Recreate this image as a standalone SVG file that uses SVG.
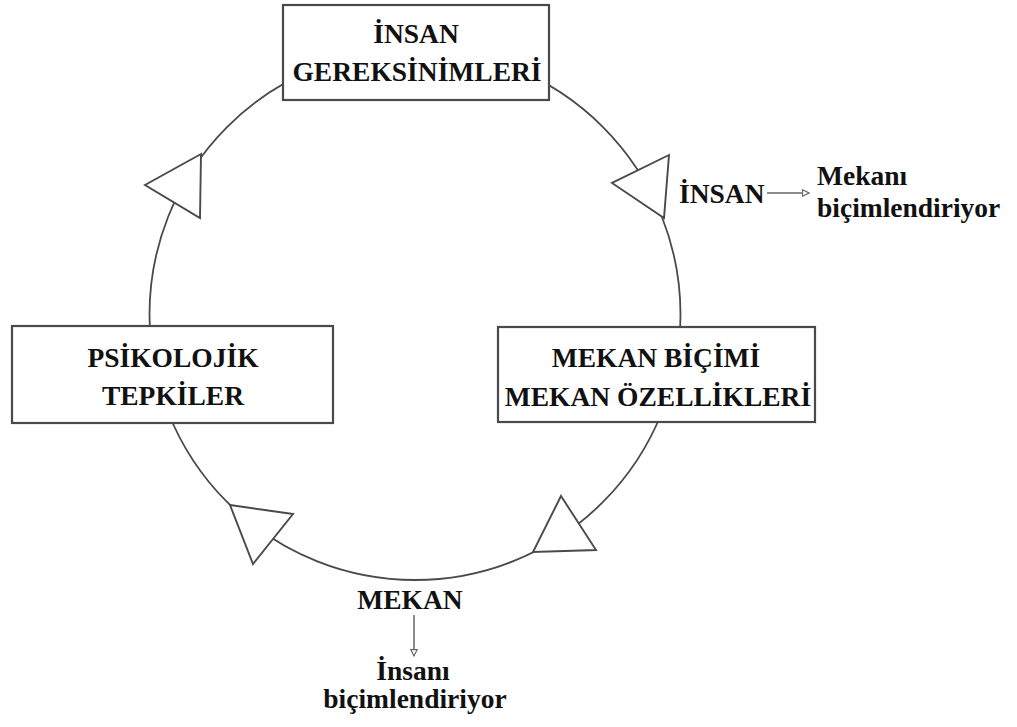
<svg xmlns="http://www.w3.org/2000/svg" width="1017" height="727" viewBox="0 0 1017 727">
<defs>
<style>
.box{fill:#fff;stroke:#4a4a4a;stroke-width:2.2}
.ring{fill:none;stroke:#4a4a4a;stroke-width:1.8}
.tri{fill:#fff;stroke:#4a4a4a;stroke-width:1.9;stroke-linejoin:miter}
.t{font-family:"Liberation Serif","Times New Roman",serif;font-weight:bold;font-size:27.5px;fill:#111}
.c{text-anchor:middle}
.arr{stroke:#666;stroke-width:1.5;fill:none}
</style>
<marker id="open" viewBox="0 0 10 10" refX="9" refY="5" markerWidth="8" markerHeight="8" markerUnits="userSpaceOnUse" orient="auto">
<path d="M1,1 L9,5 L1,9 Z" fill="#fff" stroke="#666" stroke-width="1.4"/>
</marker>
</defs>
<rect width="1017" height="727" fill="#fff"/>
<g id="connectors">
<circle class="ring" cx="415" cy="314.5" r="265.5"/>
<polygon class="tri" points="201,154 145,185 200,218"/>
<polygon class="tri" points="669,155 612,183 664,218"/>
<polygon class="tri" points="230,505 293,514 253,564"/>
<polygon class="tri" points="561,496 596,550 533,552"/>
<line class="arr" x1="767" y1="193" x2="809" y2="193" marker-end="url(#open)"/>
<line class="arr" x1="414" y1="615" x2="414" y2="656" marker-end="url(#open)"/>
</g>
<g id="insan-gereksinimleri">
<rect class="box" x="283" y="5" width="266" height="95"/>
<text class="t c" x="416" y="43">İNSAN</text>
<text class="t c" x="417" y="81">GEREKSİNİMLERİ</text>
</g>
<g id="psikolojik-tepkiler">
<rect class="box" x="12" y="326" width="321" height="97"/>
<text class="t c" x="173" y="367">PSİKOLOJİK</text>
<text class="t c" x="173" y="405">TEPKİLER</text>
</g>
<g id="mekan-bicimi">
<rect class="box" x="498" y="327" width="317" height="95"/>
<text class="t c" x="656" y="367">MEKAN BİÇİMİ</text>
<text class="t c" x="658" y="406">MEKAN ÖZELLİKLERİ</text>
</g>
<g id="insan-label">
<text class="t" x="679" y="203">İNSAN</text>
</g>
<g id="mekani-bicimlendiriyor">
<text class="t" x="817" y="185">Mekanı</text>
<text class="t" x="817" y="217">biçimlendiriyor</text>
</g>
<g id="mekan-label">
<text class="t c" x="410" y="609">MEKAN</text>
</g>
<g id="insani-bicimlendiriyor">
<text class="t c" x="413" y="680">İnsanı</text>
<text class="t c" x="415" y="708">biçimlendiriyor</text>
</g>
</svg>
